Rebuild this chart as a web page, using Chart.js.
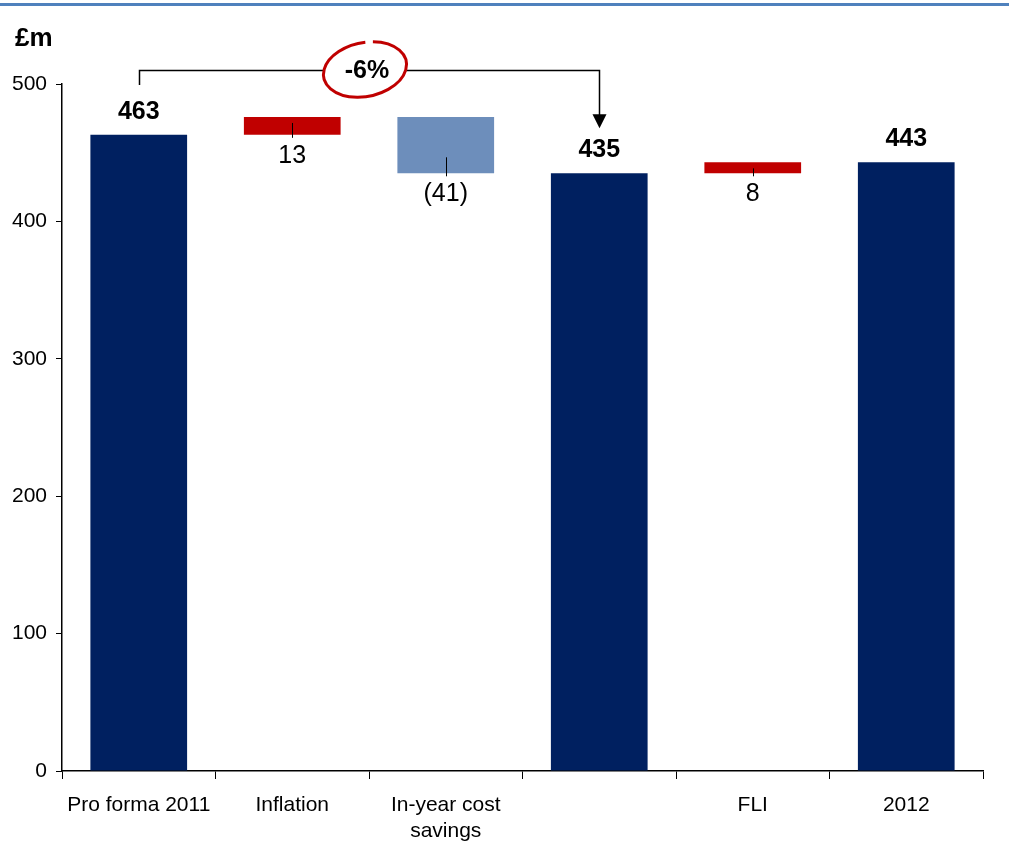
<!DOCTYPE html>
<html>
<head>
<meta charset="utf-8">
<script src="https://cdn.jsdelivr.net/npm/chart.js@4.4.1/dist/chart.umd.min.js"></script>
<style>
  html, body { margin: 0; padding: 0; background: #ffffff; }
  #wrap { position: relative; width: 1009px; height: 865px; }
</style>
</head>
<body>
<div id="wrap"><canvas id="myChart"></canvas></div>
<script>
// Waterfall data (£m)
const categories = [['Pro forma 2011'], ['Inflation'], ['In-year cost', 'savings'], [''], ['FLI'], ['2012']];
const barStarts = [0, 463, 476, 0, 435, 0];
const barEnds = [463, 476, 435, 435, 443, 443];
const valueLabels = ['463', '13', '(41)', '435', '8', '443'];
const barKinds = ['total', 'increase', 'decrease', 'total', 'increase', 'total'];
const yTicks = [0, 100, 200, 300, 400, 500];
const changeLabel = '-6%';

const kindColors = { total: '#002060', increase: '#C00000', decrease: '#6D8EBB' };
const FONT = "'Liberation Sans', Arial, sans-serif";

// Labels, ticks, the bracket and the title
const overlayPlugin = {
  id: 'overlay',
  afterDraw(chart) {
    const ctx = chart.ctx;
    const y = chart.scales.y;
    const meta = chart.getDatasetMeta(0);

    ctx.save();
    // top rule
    ctx.fillStyle = '#4F81BD';
    ctx.fillRect(0, 3, chart.width, 3);

    // unit label
    ctx.fillStyle = '#000';
    ctx.font = 'bold 26px ' + FONT;
    ctx.textAlign = 'left';
    ctx.textBaseline = 'middle';
    ctx.fillText('£m', 15, 39);

    meta.data.forEach((bar, i) => {
      const top = y.getPixelForValue(Math.max(barStarts[i], barEnds[i]));
      const bottom = y.getPixelForValue(Math.min(barStarts[i], barEnds[i]));
      ctx.textAlign = 'center';
      ctx.textBaseline = 'middle';
      ctx.fillStyle = '#000';
      if (barKinds[i] === 'total') {
        ctx.font = 'bold 25px ' + FONT;
        ctx.fillText(valueLabels[i], bar.x, top - 23);
      } else {
        ctx.strokeStyle = '#000';
        ctx.lineWidth = 1;
        ctx.beginPath();
        ctx.moveTo(Math.round(bar.x) + 0.5, Math.max(top + 6, bottom - 16));
        ctx.lineTo(Math.round(bar.x) + 0.5, bottom + 3);
        ctx.stroke();
        ctx.font = '25px ' + FONT;
        ctx.fillText(valueLabels[i], bar.x, bottom + 21);
      }
    });

    // bracket from first total to second total
    const x0 = Math.round(meta.data[0].x) + 0.5;
    const x1 = Math.round(meta.data[3].x) + 0.5;
    const yLine = chart.chartArea.top - 13.5;
    const tip = y.getPixelForValue(barEnds[3]) - 45;
    const midX = 366;
    ctx.strokeStyle = '#000';
    ctx.lineWidth = 1.5;
    ctx.beginPath();
    ctx.moveTo(x0, chart.chartArea.top + 1);
    ctx.lineTo(x0, yLine);
    ctx.lineTo(midX - 42, yLine);
    ctx.moveTo(midX + 40, yLine);
    ctx.lineTo(x1, yLine);
    ctx.lineTo(x1, tip - 12);
    ctx.stroke();
    ctx.fillStyle = '#000';
    ctx.beginPath();
    ctx.moveTo(x1 - 7, tip - 14);
    ctx.lineTo(x1 + 7, tip - 14);
    ctx.lineTo(x1, tip);
    ctx.closePath();
    ctx.fill();

    // change label with hand-drawn circle
    ctx.font = 'bold 25px ' + FONT;
    ctx.textAlign = 'center';
    ctx.textBaseline = 'middle';
    ctx.fillText(changeLabel, midX + 1, yLine + 1);
    ctx.strokeStyle = '#C00000';
    ctx.lineWidth = 3;
    ctx.beginPath();
    ctx.ellipse(midX - 1, yLine - 1, 42, 27, -0.2, -1.25, 4.85);
    ctx.stroke();
    ctx.restore();
  }
};

const canvas = document.getElementById('myChart');

new Chart(canvas, {
  type: 'bar',
  data: {
    labels: categories,
    datasets: [{
      data: barStarts.map((s, i) => [s, barEnds[i]]),
      backgroundColor: barKinds.map(k => kindColors[k]),
      borderWidth: 0,
      borderSkipped: false,
      categoryPercentage: 1,
      barPercentage: 0.63
    }]
  },
  options: {
    responsive: true,
    maintainAspectRatio: false,
    animation: false,
    layout: { padding: { top: 84, right: 26, bottom: 0, left: 0 } },
    plugins: {
      legend: { display: false },
      tooltip: { enabled: false }
    },
    scales: {
      x: {
        grid: { offset: true, drawOnChartArea: false, tickLength: 8, color: '#000', lineWidth: 1 },
        border: { color: '#000', width: 1.5 },
        ticks: { color: '#000', padding: 14, maxRotation: 0, autoSkip: false,
          font: { family: FONT, size: 21, lineHeight: 1.2 } },
        afterFit(scale) { scale.height = 94; }
      },
      y: {
        min: 0,
        max: 500,
        afterBuildTicks(scale) { scale.ticks = yTicks.map(v => ({ value: v })); },
        grid: { drawOnChartArea: false, tickLength: 6, color: '#000', lineWidth: 1 },
        border: { color: '#000', width: 1.5 },
        ticks: { color: '#000', padding: 9, font: { family: FONT, size: 21 } },
        afterFit(scale) { scale.width = 62; }
      }
    }
  },
  plugins: [overlayPlugin]
});
</script>
</body>
</html>
